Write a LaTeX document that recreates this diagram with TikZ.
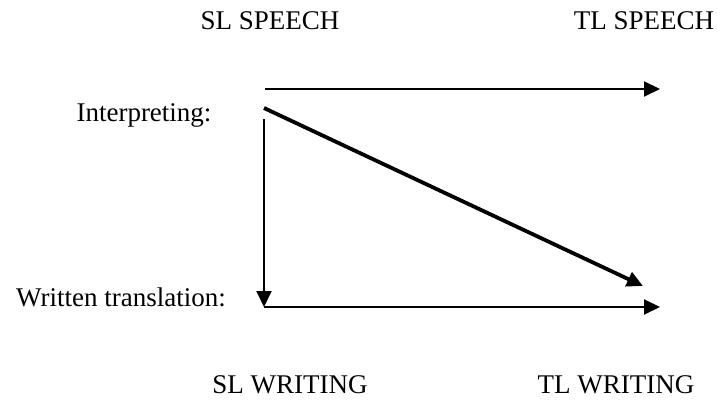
\documentclass[tikz,border=0pt]{standalone}
\usepackage{fontspec}
\setmainfont{Liberation Serif}
\usetikzlibrary{arrows.meta}

\begin{document}
\begin{tikzpicture}[x=0.5pt,y=-0.5pt,
  every node/.style={font=\fontsize{13.5}{16}\selectfont,inner sep=0pt,anchor=base},
  flow/.style={line width=1pt,-{Triangle[length=8pt,width=7.5pt]}}]
  \useasboundingbox (0,0) rectangle (718,401);
  % labels
  \node (slspeech) at (270,30) {SL SPEECH};
  \node (tlspeech) at (644,30) {TL SPEECH};
  \node (interp) at (144,122) {Interpreting:};
  \node (written) at (121,306) {Written translation:};
  \node (slwriting) at (290,393) {SL WRITING};
  \node (tlwriting) at (616,393) {TL WRITING};
  % arrow ends
  \coordinate (spstart) at (265,89);
  \coordinate (spend) at (660,89);
  \coordinate (diagstart) at (264,108);
  \coordinate (diagend) at (643,286);
  \coordinate (downstart) at (264,119);
  \coordinate (wrstart) at (264,307);
  \coordinate (wrend) at (660,307);
  \draw[flow] (spstart) -- (spend);
  \draw[flow,line width=1.9pt] (diagstart) -- (diagend);
  \draw[flow] (downstart) -- (wrstart);
  \draw[flow] (wrstart) -- (wrend);
\end{tikzpicture}
\end{document}
